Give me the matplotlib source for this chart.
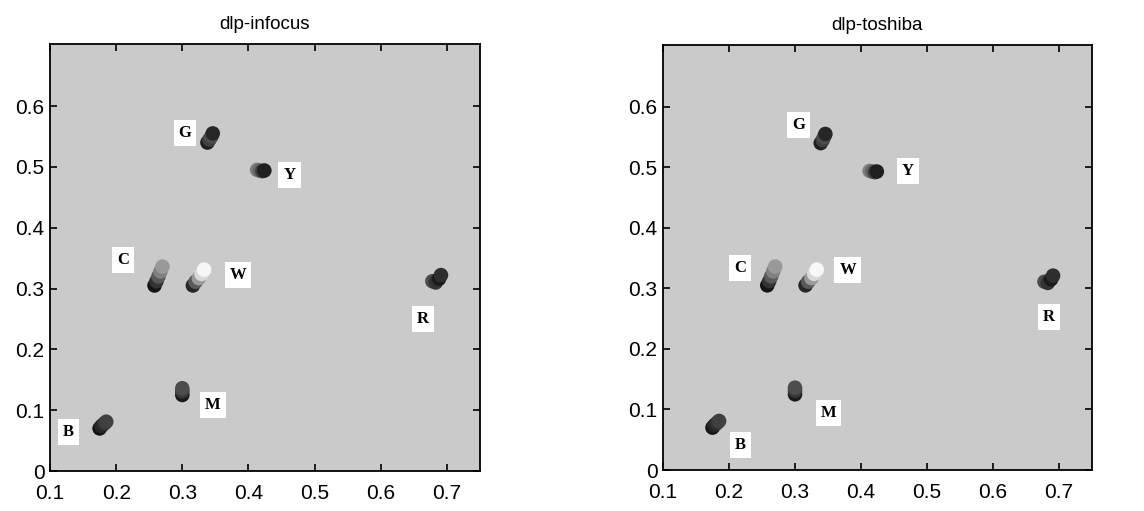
import numpy as np
import matplotlib.pyplot as plt

# chromaticity clusters (x, y) per primary
names = ["G", "Y", "C", "W", "R", "M", "B"]

infocus_x = {
    "G": [0.338, 0.341, 0.344, 0.346],
    "Y": [0.413, 0.417, 0.421, 0.424],
    "C": [0.258, 0.261, 0.264, 0.267, 0.270],
    "W": [0.316, 0.320, 0.325, 0.329, 0.333],
    "R": [0.678, 0.683, 0.688, 0.691],
    "M": [0.300, 0.300, 0.300],
    "B": [0.175, 0.178, 0.182, 0.185],
}
infocus_y = {
    "G": [0.540, 0.545, 0.550, 0.555],
    "Y": [0.495, 0.494, 0.493, 0.494],
    "C": [0.305, 0.312, 0.320, 0.328, 0.336],
    "W": [0.305, 0.311, 0.317, 0.324, 0.331],
    "R": [0.312, 0.310, 0.316, 0.322],
    "M": [0.125, 0.131, 0.136],
    "B": [0.070, 0.074, 0.078, 0.081],
}
toshiba_x = {
    "G": [0.339, 0.342, 0.344, 0.346],
    "Y": [0.413, 0.417, 0.421, 0.424],
    "C": [0.258, 0.261, 0.264, 0.267, 0.270],
    "W": [0.316, 0.320, 0.325, 0.329, 0.333],
    "R": [0.678, 0.683, 0.688, 0.691],
    "M": [0.300, 0.300, 0.300],
    "B": [0.175, 0.178, 0.182, 0.185],
}
toshiba_y = {
    "G": [0.540, 0.545, 0.550, 0.555],
    "Y": [0.494, 0.493, 0.492, 0.493],
    "C": [0.305, 0.312, 0.320, 0.328, 0.336],
    "W": [0.305, 0.311, 0.317, 0.324, 0.331],
    "R": [0.311, 0.309, 0.315, 0.321],
    "M": [0.125, 0.131, 0.136],
    "B": [0.070, 0.074, 0.078, 0.081],
}
# gray level of each dot in a cluster (0 black, 1 white)
shades = {
    "G": [0.12, 0.25, 0.30, 0.15],
    "Y": [0.50, 0.40, 0.25, 0.12],
    "C": [0.08, 0.20, 0.35, 0.50, 0.60],
    "W": [0.15, 0.35, 0.60, 0.85, 0.97],
    "R": [0.30, 0.20, 0.10, 0.18],
    "M": [0.10, 0.22, 0.30],
    "B": [0.08, 0.15, 0.20, 0.25],
}

infocus_lx = {"G": 0.304, "Y": 0.462, "C": 0.210, "W": 0.384, "R": 0.664, "M": 0.346, "B": 0.128}
infocus_ly = {"G": 0.556, "Y": 0.487, "C": 0.347, "W": 0.322, "R": 0.250, "M": 0.109, "B": 0.064}
toshiba_lx = {"G": 0.305, "Y": 0.471, "C": 0.217, "W": 0.380, "R": 0.685, "M": 0.351, "B": 0.217}
toshiba_ly = {"G": 0.570, "Y": 0.494, "C": 0.334, "W": 0.331, "R": 0.252, "M": 0.094, "B": 0.041}

xticks = [0.1, 0.2, 0.3, 0.4, 0.5, 0.6, 0.7]
yticks = [0, 0.1, 0.2, 0.3, 0.4, 0.5, 0.6]

plt.rcParams['font.family'] = ['Liberation Sans', 'DejaVu Sans']

fig = plt.figure(figsize=(11.44, 5.11), dpi=100)
fig.patch.set_facecolor('white')

panels = [
    ("dlp-infocus", [50 / 1144, 40 / 511, 430 / 1144, 427 / 511], infocus_x, infocus_y, infocus_lx, infocus_ly),
    ("dlp-toshiba", [663 / 1144, 41 / 511, 429 / 1144, 425 / 511], toshiba_x, toshiba_y, toshiba_lx, toshiba_ly),
]

for title, rect, px, py, lx, ly in panels:
    ax = fig.add_axes(rect)
    ax.set_facecolor('#cacaca')
    for n in names:
        cols = [str(s) for s in shades[n]]
        ax.scatter(px[n], py[n], s=110, c=cols, edgecolors='none', zorder=3)
        ax.text(lx[n], ly[n], n, family='Liberation Serif', fontweight='bold', fontsize=12,
                ha='center', va='center', zorder=4,
                bbox=dict(boxstyle='square,pad=0.3', fc='white', ec='none'))
    ax.set_xlim(0.1, 0.75)
    ax.set_ylim(0, 0.702)
    ax.set_xticks(xticks)
    ax.set_yticks(yticks)
    ax.set_xticklabels([f"{t:g}" for t in xticks])
    ax.set_yticklabels([f"{t:g}" for t in yticks])
    ax.tick_params(direction='in', top=True, right=True, length=5, width=1.2,
                   labelsize=15)
    ax.tick_params(axis='x', pad=9)
    ax.tick_params(axis='y', pad=4)
    for sp in ax.spines.values():
        sp.set_linewidth(1.3)
    ax.set_title(title, fontsize=13.5, pad=11)

fig.savefig('out.png', dpi=100)
